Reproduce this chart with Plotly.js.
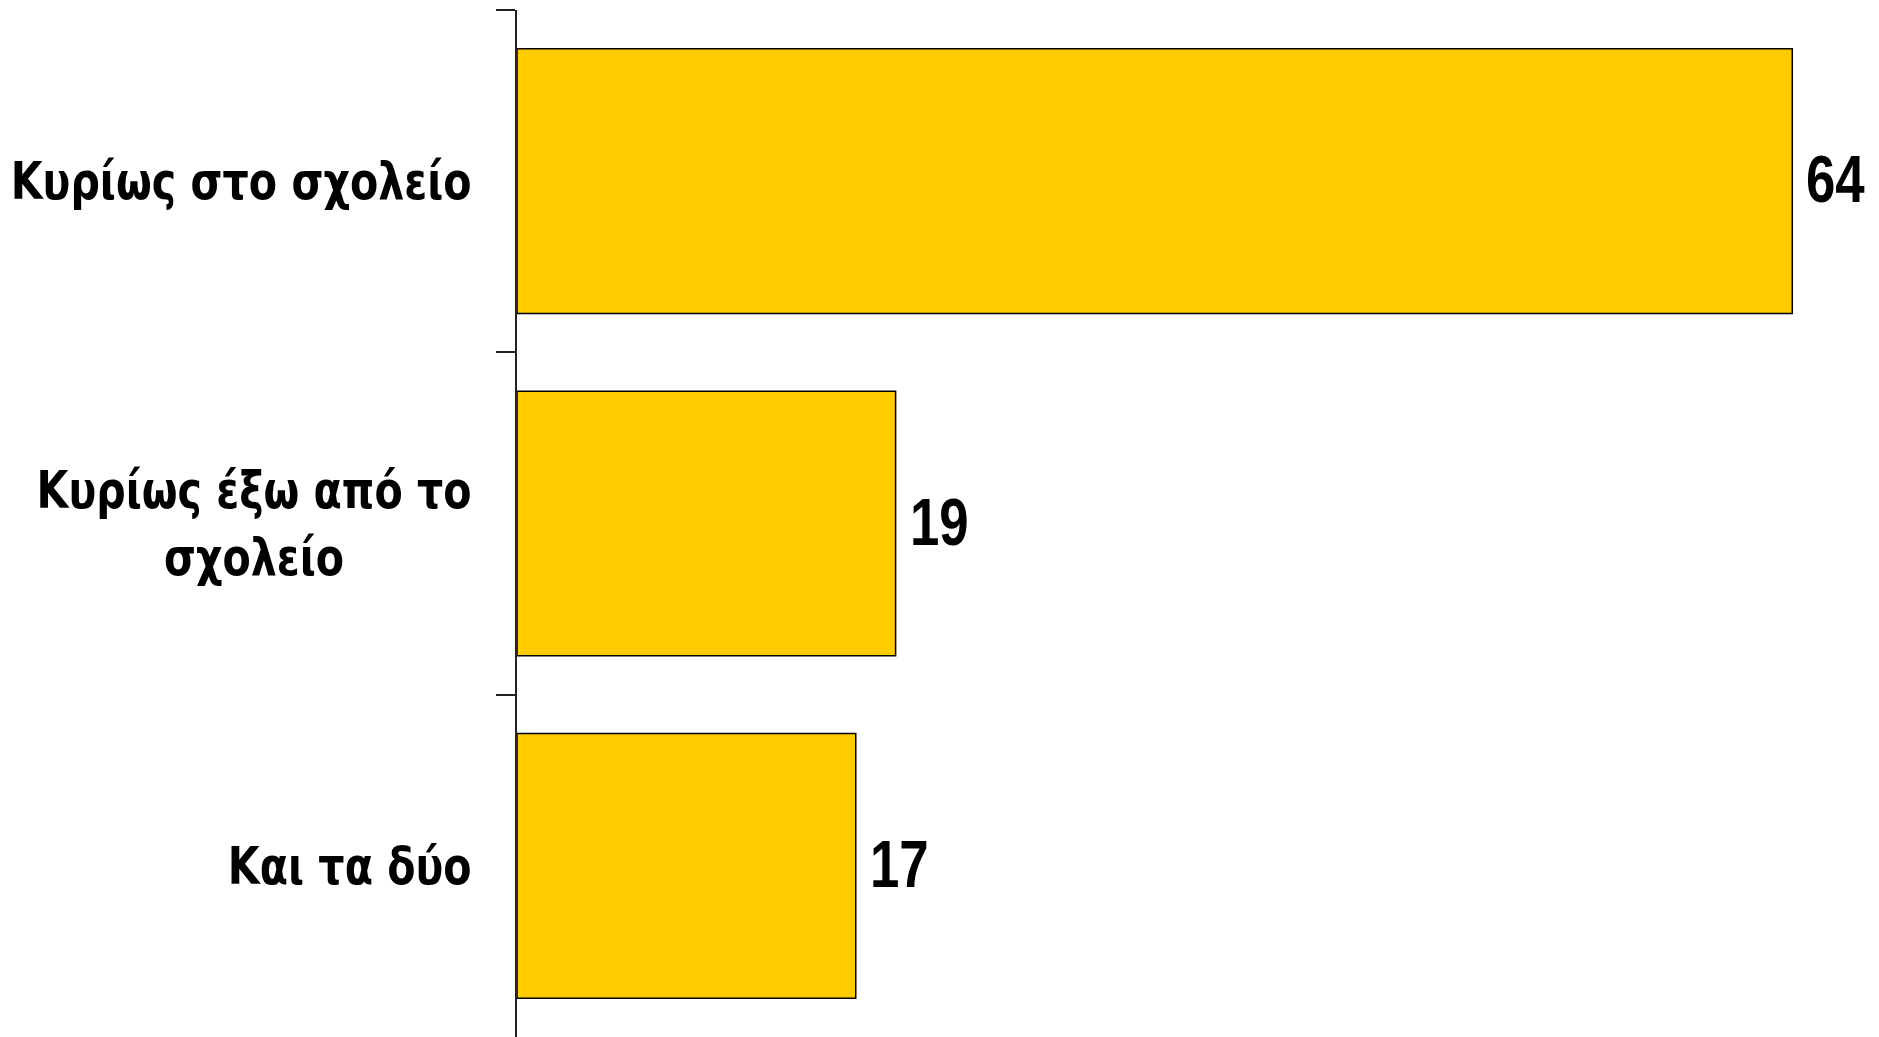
<!DOCTYPE html>
<html>
<head>
<meta charset="utf-8">
<script src="https://cdn.plot.ly/plotly-3.0.1.min.js"></script>
<style>
html,body{margin:0;padding:0;background:#fff;}
#chart{width:1879px;height:1037px;}
#chart svg text{font-stretch:condensed !important;}
</style>
</head>
<body>
<div id="chart"></div>
<script>
const categories = ["Κυρίως στο σχολείο", "Κυρίως έξω από το<br>σχολείο", "Και τα δύο"];
const values = [64, 19, 17];
const barColor = "#FFCC00";
const LABEL_FONT = "'DejaVu Sans', sans-serif";
const NUM_FONT = "'Liberation Sans', Arial, sans-serif";

const trace = {
  type: "bar",
  orientation: "h",
  x: values,
  y: categories,
  marker: {color: barColor, line: {color: "#000", width: 1.5}},
  hoverinfo: "none"
};

const annotations = values.map((v, i) => ({
  x: v, y: categories[i], xref: "x", yref: "y",
  text: String(v), showarrow: false, xanchor: "left", yanchor: "middle", align: "left",
  xshift: 12, yshift: 2,
  font: {family: NUM_FONT, size: 66, color: "#000", weight: "bold"}
}));

const layout = {
  width: 1879, height: 1037,
  margin: {l: 517, r: 7, t: 10, b: 0},
  paper_bgcolor: "#fff", plot_bgcolor: "#fff",
  showlegend: false,
  bargap: 0.227,
  xaxis: {range: [0, 68], visible: false, fixedrange: true},
  yaxis: {
    autorange: "reversed",
    type: "category",
    showline: true, linecolor: "#222", linewidth: 2,
    ticks: "outside", tickson: "boundaries", ticklen: 19, tickwidth: 2, tickcolor: "#222",
    showgrid: false, zeroline: false,
    ticklabelstandoff: 33,
    tickfont: {family: LABEL_FONT, size: 52, color: "#000", weight: "bold"}
  },
  annotations: annotations
};

function squeeze(el, f) {
  const L = el.getComputedTextLength();
  if (L > 0) {
    el.setAttribute("textLength", (L * f).toFixed(1));
    el.setAttribute("lengthAdjust", "spacingAndGlyphs");
    return L * f;
  }
  return 0;
}

Plotly.newPlot("chart", [trace], layout, {displayModeBar: false, staticPlot: true}).then(gd => {
  gd.querySelectorAll(".annotation-text").forEach(t => squeeze(t, 0.8));
  gd.querySelectorAll(".ytick text").forEach(t => {
    const lines = Array.from(t.querySelectorAll("tspan.line"));
    if (lines.length) {
      const widths = lines.map(l => squeeze(l, 0.88));
      const maxW = Math.max(...widths);
      lines.forEach((l, i) => {
        const shift = (maxW - widths[i]) / 2;
        if (shift > 0) {
          const x0 = parseFloat(l.getAttribute("x") || t.getAttribute("x") || 0);
          l.setAttribute("x", (x0 - shift).toFixed(1));
        }
      });
    } else squeeze(t, 0.88);
  });
});
</script>
</body>
</html>
